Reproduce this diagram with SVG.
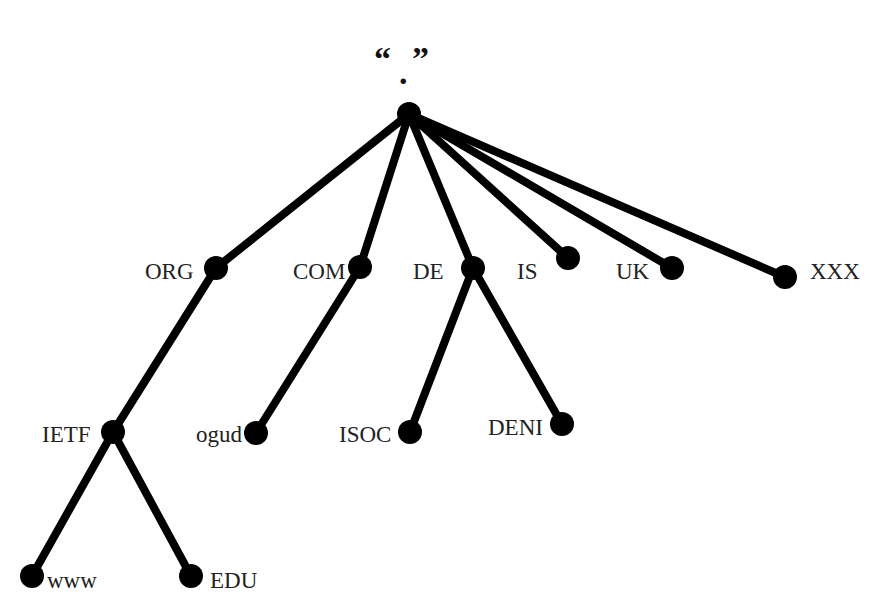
<svg xmlns="http://www.w3.org/2000/svg" width="891" height="607" viewBox="0 0 891 607">
<style>
.e{stroke:#000;stroke-width:8;stroke-linecap:round;fill:none}
.n{fill:#000}
.t{font-family:"Liberation Serif","Times New Roman",serif;font-size:23px;fill:#222}
.q{font-family:"Liberation Serif","Times New Roman",serif;font-size:34px;font-weight:bold;fill:#111}
</style>
<rect width="891" height="607" fill="#fff"/>
<g id="connectors">
<line class="e" x1="409" y1="114" x2="216" y2="268"/>
<line class="e" x1="409" y1="114" x2="360" y2="267"/>
<line class="e" x1="409" y1="114" x2="473" y2="268"/>
<line class="e" x1="409" y1="114" x2="568" y2="258"/>
<line class="e" x1="409" y1="114" x2="672" y2="268"/>
<line class="e" x1="409" y1="114" x2="785" y2="277"/>
<line class="e" x1="216" y1="268" x2="113" y2="432"/>
<line class="e" x1="360" y1="267" x2="256" y2="433"/>
<line class="e" x1="473" y1="268" x2="410" y2="432"/>
<line class="e" x1="473" y1="268" x2="562" y2="424"/>
<line class="e" x1="113" y1="432" x2="32" y2="576"/>
<line class="e" x1="113" y1="432" x2="191" y2="576"/>
</g>
<g id="root">
<text class="q"><tspan x="374" y="70">“</tspan><tspan x="412" y="70">”</tspan></text>
<text class="q" x="399" y="84">.</text>
<circle class="n" cx="409" cy="114" r="12"/>
</g>
<g id="org"><circle class="n" cx="216" cy="268" r="12"/><text class="t" x="145" y="279">ORG</text></g>
<g id="com"><circle class="n" cx="360" cy="267" r="12"/><text class="t" x="293" y="279">COM</text></g>
<g id="de"><circle class="n" cx="473" cy="268" r="12"/><text class="t" x="413" y="279">DE</text></g>
<g id="is"><circle class="n" cx="568" cy="258" r="12"/><text class="t" x="517" y="279">IS</text></g>
<g id="uk"><circle class="n" cx="672" cy="268" r="12"/><text class="t" x="616" y="279">UK</text></g>
<g id="xxx"><circle class="n" cx="785" cy="277" r="12"/><text class="t" x="810" y="279">XXX</text></g>
<g id="ietf"><circle class="n" cx="113" cy="432" r="12"/><text class="t" x="42" y="442">IETF</text></g>
<g id="ogud"><circle class="n" cx="256" cy="433" r="12"/><text class="t" x="196" y="442">ogud</text></g>
<g id="isoc"><circle class="n" cx="410" cy="432" r="12"/><text class="t" x="339" y="442">ISOC</text></g>
<g id="deni"><circle class="n" cx="562" cy="424" r="12"/><text class="t" x="488" y="435">DENI</text></g>
<g id="www"><circle class="n" cx="32" cy="576" r="12"/><text class="t" x="47" y="588">www</text></g>
<g id="edu"><circle class="n" cx="191" cy="576" r="12"/><text class="t" x="210" y="588">EDU</text></g>
</svg>
